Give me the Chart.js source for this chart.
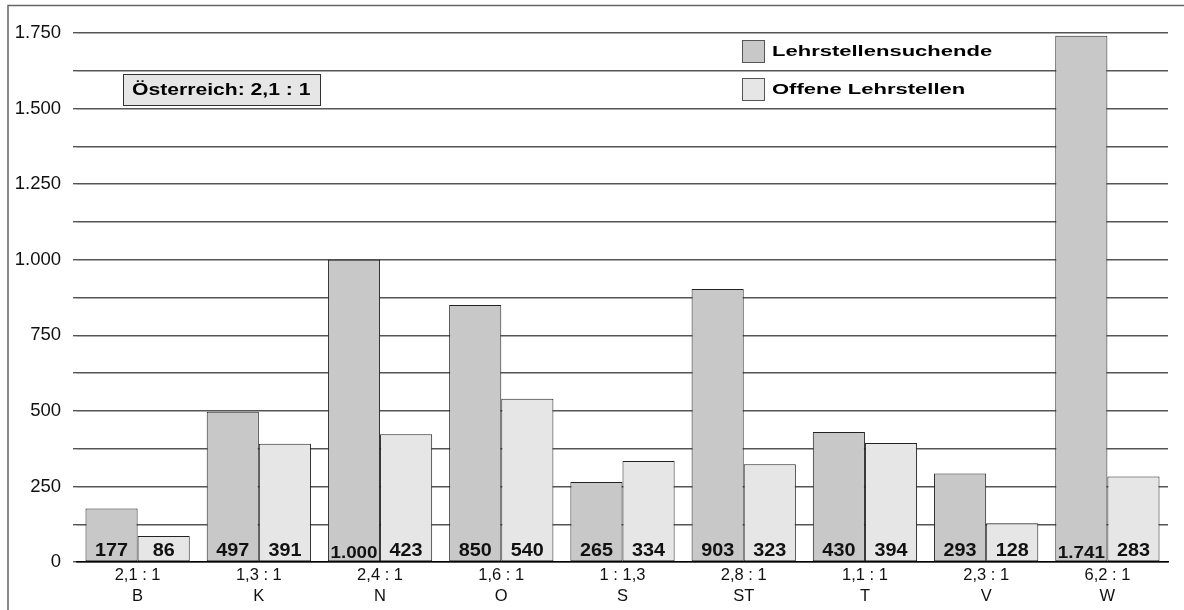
<!DOCTYPE html>
<html>
<head>
<meta charset="utf-8">
<script src="https://cdn.jsdelivr.net/npm/chart.js@4/dist/chart.umd.min.js"></script>
<style>
  html, body { margin: 0; padding: 0; background: #fff; }
  #wrap { width: 1184px; height: 610px; }
</style>
</head>
<body>
<div id="wrap"><canvas id="chart" width="1184" height="610"></canvas></div>
<script>
const regions = ['B', 'K', 'N', 'O', 'S', 'ST', 'T', 'V', 'W'];
const ratios = ['2,1 : 1', '1,3 : 1', '2,4 : 1', '1,6 : 1', '1 : 1,3', '2,8 : 1', '1,1 : 1', '2,3 : 1', '6,2 : 1'];
const seekers = [177, 497, 1000, 850, 265, 903, 430, 293, 1741];
const openPlaces = [86, 391, 423, 540, 334, 323, 394, 128, 283];
const seriesNames = ['Lehrstellensuchende', 'Offene Lehrstellen'];
const seriesColors = ['#c8c8c8', '#e6e6e6'];
const totalNote = 'Österreich: 2,1 : 1';

const FONT = '"Liberation Sans", Arial, sans-serif';

function fmt(n) {
  return String(n).replace(/\B(?=(\d{3})+(?!\d))/g, '.');
}

// text drawn a bit wider, like the original
function wideText(ctx, txt, x, y, sx) {
  ctx.save();
  ctx.translate(x, y);
  ctx.scale(sx, 1);
  ctx.fillText(txt, 0, 0);
  ctx.restore();
}

// frame, note box, legend, value labels
const decoPlugin = {
  id: 'deco',
  beforeDraw(chart) {
    const ctx = chart.ctx;
    ctx.save();
    ctx.fillStyle = '#fff';
    ctx.fillRect(0, 0, chart.width, chart.height);
    ctx.strokeStyle = '#666';
    ctx.lineWidth = 1.5;
    ctx.strokeRect(8, 5.5, 1400, 800);
    ctx.restore();
  },
  afterDraw(chart) {
    const ctx = chart.ctx;
    ctx.save();
    // Österreich box
    ctx.fillStyle = '#e6e6e6';
    ctx.fillRect(123.5, 74.5, 197, 31);
    ctx.strokeStyle = '#333';
    ctx.lineWidth = 1;
    ctx.strokeRect(123.5, 74.5, 197, 31);
    ctx.fillStyle = '#000';
    ctx.textBaseline = 'middle';
    ctx.font = 'bold 16px ' + FONT;
    wideText(ctx, totalNote, 132, 90.5, 1.32);

    // legend
    chart.data.datasets.forEach((ds, i) => {
      const y = 40 + i * 38;
      ctx.fillStyle = ds.backgroundColor;
      ctx.fillRect(742.5, y + 0.5, 22, 22);
      ctx.strokeStyle = '#555';
      ctx.strokeRect(742.5, y + 0.5, 22, 22);
      ctx.fillStyle = '#000';
      ctx.font = 'bold 15.5px ' + FONT;
      ctx.textBaseline = 'middle';
      wideText(ctx, ds.label, 772, y + 12, 1.42);
    });

    // value labels at bar bottoms
    chart.data.datasets.forEach((ds, i) => {
      const meta = chart.getDatasetMeta(i);
      meta.data.forEach((bar, j) => {
        const txt = fmt(ds.data[j]);
        let sx = 1.1, drop = 0;
        ctx.font = 'bold 18px ' + FONT;
        let raw = ctx.measureText(txt).width;
        if (raw * sx > bar.width - 8) {
          ctx.font = 'bold 16px ' + FONT;
          raw = ctx.measureText(txt).width;
          sx = (bar.width - 5) / raw;
          drop = 2;
        }
        const w = raw * sx;
        ctx.fillStyle = '#111';
        ctx.textAlign = 'left';
        ctx.textBaseline = 'alphabetic';
        wideText(ctx, txt, bar.x - w / 2, bar.base - 5 + drop, sx);
      });
    });
    ctx.restore();
  }
};

new Chart(document.getElementById('chart'), {
  type: 'bar',
  data: {
    labels: regions.map((r, i) => [ratios[i], r]),
    datasets: [
      { label: seriesNames[0], data: seekers, backgroundColor: seriesColors[0],
        borderColor: '#222', borderWidth: 1, borderSkipped: false },
      { label: seriesNames[1], data: openPlaces, backgroundColor: seriesColors[1],
        borderColor: '#222', borderWidth: 1, borderSkipped: false }
    ]
  },
  options: {
    responsive: false,
    animation: false,
    events: [],
    layout: { padding: { top: 33, right: 16, left: 0, bottom: 0 } },
    datasets: { bar: { categoryPercentage: 0.86, barPercentage: 1.0 } },
    plugins: { legend: { display: false }, tooltip: { enabled: false } },
    scales: {
      x: {
        grid: { display: false, drawTicks: false },
        border: { display: true, color: '#000', width: 1.5 },
        ticks: { color: '#111', font: { family: FONT, size: 16.5, lineHeight: 1.27 }, padding: 3, maxRotation: 0, autoSkip: false },
        afterFit(scale) { scale.height = 48; }
      },
      y: {
        min: 0, max: 1750,
        grid: { color: '#555', lineWidth: 1.4, drawTicks: true, tickLength: 4, tickColor: '#555' },
        border: { display: false },
        ticks: {
          stepSize: 125, color: '#111', padding: 12,
          font: { family: FONT, size: 18.5 },
          callback: v => (v % 250 === 0 ? fmt(v) : '')
        },
        afterFit(scale) { scale.width = 77; }
      }
    }
  },
  plugins: [decoPlugin]
});
</script>
</body>
</html>
